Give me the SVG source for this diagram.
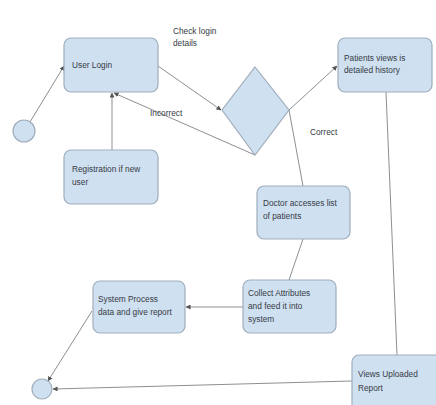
<svg xmlns="http://www.w3.org/2000/svg" width="436" height="405" viewBox="0 0 436 405">
<defs>
<style>
.box{fill:#cfe0f1;stroke:#9fadbc;stroke-width:1.2}
.t{font-family:"Liberation Sans",Arial,sans-serif;font-size:8.3px;fill:#363b44}
.c{fill:none;stroke:#8c8f94;stroke-width:1}
</style>
<marker id="ah" viewBox="0 0 6 6" refX="5.5" refY="3" markerWidth="5" markerHeight="5" orient="auto">
<path d="M0,0 L6,3 L0,6 z" fill="#555"/>
</marker>
</defs>
<rect width="436" height="405" fill="#ffffff"/>
<g id="connectors">
<line class="c" x1="30" y1="122" x2="64" y2="66" marker-end="url(#ah)"/>
<line class="c" x1="112" y1="150" x2="112" y2="93" marker-end="url(#ah)"/>
<line class="c" x1="158" y1="66" x2="221" y2="110" marker-end="url(#ah)"/>
<line class="c" x1="255" y1="155" x2="114" y2="93" marker-end="url(#ah)"/>
<line class="c" x1="289" y1="110" x2="337" y2="66" marker-end="url(#ah)"/>
<line class="c" x1="289" y1="110" x2="303" y2="186"/>
<line class="c" x1="303" y1="239" x2="289" y2="280"/>
<line class="c" x1="243" y1="307" x2="186" y2="307" marker-end="url(#ah)"/>
<line class="c" x1="92" y1="311" x2="48" y2="381" marker-end="url(#ah)"/>
<line class="c" x1="386" y1="92" x2="397" y2="355"/>
<line class="c" x1="352" y1="381" x2="53" y2="389" marker-end="url(#ah)"/>
<text class="t" x="173" y="34">Check login</text>
<text class="t" x="173" y="46">details</text>
<text class="t" x="150" y="116">Incorrect</text>
<text class="t" x="310" y="135">Correct</text>
</g>
<g id="start"><circle class="box" cx="24" cy="131" r="11"/></g>
<g id="userlogin"><rect class="box" x="64" y="38" width="94" height="54" rx="7"/><text class="t" x="72" y="68">User Login</text></g>
<g id="registration"><rect class="box" x="64" y="150" width="94" height="54" rx="7"/><text class="t" x="72" y="172">Registration if new</text><text class="t" x="72" y="185">user</text></g>
<g id="decision"><polygon class="box" points="255,67 289,110 255,155 222,110"/></g>
<g id="patients"><rect class="box" x="338" y="38" width="94" height="54" rx="7"/><text class="t" x="344" y="61">Patients views is</text><text class="t" x="344" y="73">detailed history</text></g>
<g id="doctor"><rect class="box" x="257" y="186" width="93" height="53" rx="7"/><text class="t" x="263" y="206">Doctor accesses list</text><text class="t" x="263" y="219">of patients</text></g>
<g id="collect"><rect class="box" x="243" y="280" width="93" height="53" rx="7"/><text class="t" x="248" y="296">Collect Attributes</text><text class="t" x="248" y="309">and feed it into</text><text class="t" x="248" y="322">system</text></g>
<g id="system"><rect class="box" x="93" y="281" width="92" height="52" rx="7"/><text class="t" x="98" y="302">System Process</text><text class="t" x="98" y="315">data and give report</text></g>
<g id="end"><circle class="box" cx="42" cy="389" r="10"/></g>
<g id="views"><rect class="box" x="352" y="355" width="90" height="56" rx="7"/><text class="t" x="358" y="377">Views Uploaded</text><text class="t" x="358" y="391">Report</text></g>
</svg>
